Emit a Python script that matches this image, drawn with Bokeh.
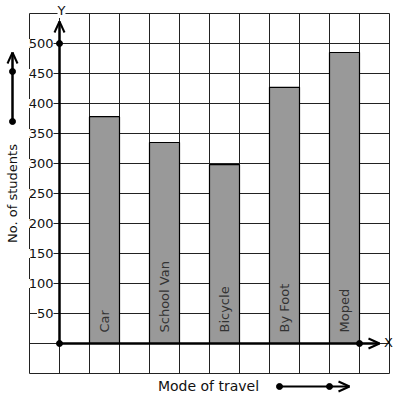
import math
from bokeh.plotting import figure
from bokeh.models import Range1d
from bokeh.core.properties import value
from bokeh.embed import file_html
from bokeh.resources import INLINE

# ---- data ----
categories = ["Car", "School Van", "Bicycle", "By Foot", "Moped"]
students = [378, 335, 298, 427, 485]
y_ticks = [50, 100, 150, 200, 250, 300, 350, 400, 450, 500]
y_tick_labels = ["50", "100", "150", "200", "250", "300", "350", "400", "450", "500"]
x_title = "Mode of travel"
y_title = "No. of students"

FONT = value("DejaVu Sans")

# geometry (data units): 1 grid column = 1 x unit, 1 grid row = 50 y units
PX_X = 1 / 30.0          # x units per pixel
PX_Y = 50 / 30.0         # y units per pixel

p = figure(width=397, height=399, output_backend="svg", toolbar_location=None,
           x_axis_location=None, y_axis_location=None, min_border=0,
           outline_line_color=None, background_fill_color="white")
p.x_range = Range1d(-1 - 29 * PX_X, -1 + (397 - 29) * PX_X)
p.y_range = Range1d(550 - (399 - 13) * PX_Y, 550 + 13 * PX_Y)
p.grid.visible = False

# grid
gx = list(range(-1, 12))
gy = list(range(-50, 551, 50))
p.segment(x0=gx, y0=[-50] * len(gx), x1=gx, y1=[550] * len(gx), line_color="#222222", line_width=1)
p.segment(x0=[-1] * len(gy), y0=gy, x1=[11] * len(gy), y1=gy, line_color="#222222", line_width=1)

# bars
bar_x = [2 * i + 1.5 for i in range(len(categories))]
p.vbar(x=bar_x, width=1, bottom=0, top=students, fill_color="#999999",
       line_color="black", line_width=1.2)

# bar labels (rotated)
p.text(x=bar_x, y=[11 * PX_Y] * len(categories), text=categories, angle=math.pi / 2,
       text_align="left", text_baseline="middle", text_font=FONT,
       text_font_size="13px", text_color="#333333")

# y tick labels with white background
p.text(x=[-6 * PX_X] * len(y_ticks), y=y_ticks, text=y_tick_labels,
       text_align="right", text_baseline="middle", text_font=FONT,
       text_font_size="13px", text_color="#111111",
       background_fill_color="white")

# axes
AX = dict(line_color="black", line_width=2.5)
y_tip = (343 - 21) * PX_Y
x_tip = (379 - 59) * PX_X
p.segment(x0=[0], y0=[0], x1=[0], y1=[y_tip], **AX)
p.segment(x0=[0], y0=[0], x1=[x_tip], y1=[0], **AX)
# arrow heads
CH = dict(line_color="black", line_width=2)
p.segment(x0=[-5 * PX_X, 5 * PX_X], y0=[y_tip - 11 * PX_Y] * 2, x1=[0, 0], y1=[y_tip] * 2, **CH)
p.segment(x0=[x_tip - 11 * PX_X] * 2, y0=[5 * PX_Y, -5 * PX_Y], x1=[x_tip] * 2, y1=[0, 0], **CH)
p.scatter(x=[0, 0, 10], y=[0, 500, 0], size=6, color="black")

# axis letters
p.text(x=[2 * PX_X], y=[550 + 3 * PX_Y], text=["Y"], text_align="center",
       text_baseline="middle", text_font=FONT, text_font_size="13px",
       text_color="#111111", background_fill_color="white")
p.text(x=[(388 - 59) * PX_X], y=[1 * PX_Y], text=["X"], text_align="center",
       text_baseline="middle", text_font=FONT, text_font_size="13px",
       text_color="#111111")

# titles
p.text(x=[-1 - 17 * PX_X], y=[(343 - 193) * PX_Y], text=[y_title], angle=math.pi / 2,
       text_align="center", text_baseline="middle", text_font=FONT,
       text_font_size="13px", text_color="#111111")
p.text(x=[(208 - 59) * PX_X], y=[(343 - 385) * PX_Y], text=[x_title],
       text_align="center", text_baseline="middle", text_font=FONT,
       text_font_size="14px", text_color="#111111")

# decorative arrows
lx = -1 - 17 * PX_X
l_bot, l_mid, l_tip = (343 - 121) * PX_Y, (343 - 71) * PX_Y, (343 - 52) * PX_Y
p.segment(x0=[lx], y0=[l_bot], x1=[lx], y1=[l_tip], **AX)
p.segment(x0=[lx - 5 * PX_X, lx + 5 * PX_X], y0=[l_tip - 11 * PX_Y] * 2, x1=[lx, lx], y1=[l_tip] * 2, **CH)
p.scatter(x=[lx, lx], y=[l_bot, l_mid], size=6, color="black")

by = (343 - 386) * PX_Y
b_start, b_mid, b_tip = (279 - 59) * PX_X, (329 - 59) * PX_X, (349 - 59) * PX_X
p.segment(x0=[b_start], y0=[by], x1=[b_tip], y1=[by], line_color="black", line_width=2)
p.segment(x0=[b_tip - 11 * PX_X] * 2, y0=[by + 5 * PX_Y, by - 5 * PX_Y], x1=[b_tip] * 2, y1=[by, by], **CH)
p.scatter(x=[b_start, b_mid], y=[by, by], size=6, color="black")

open("out.html", "w").write(file_html(p, INLINE))
